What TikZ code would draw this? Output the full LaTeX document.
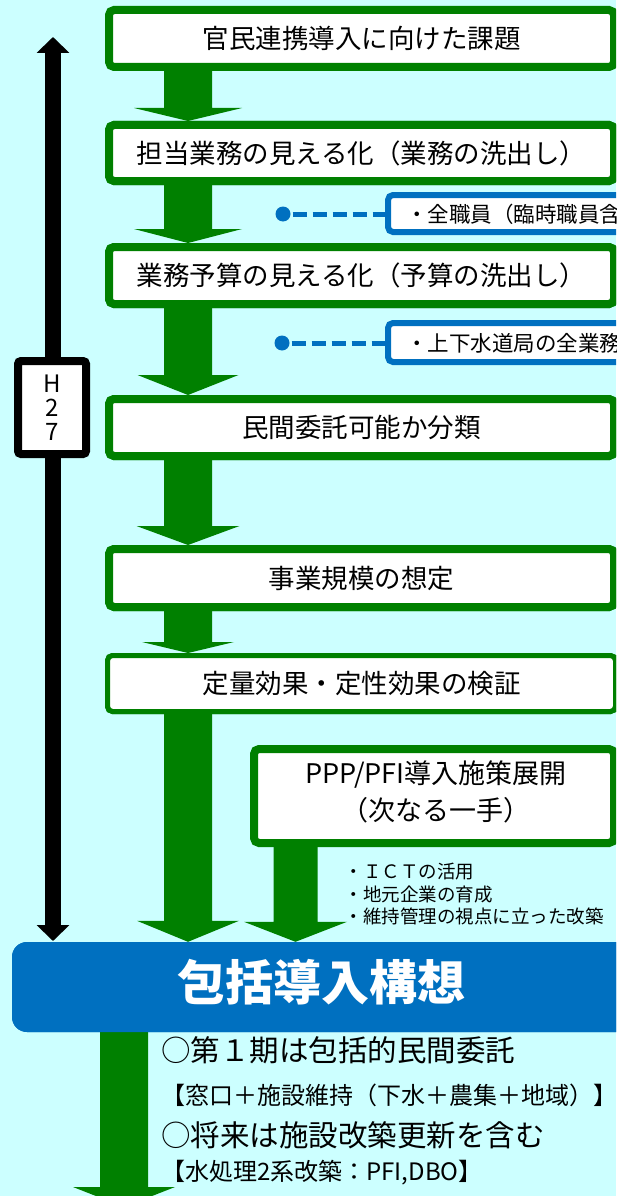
\documentclass[tikz,border=0pt]{standalone}
\usepackage{fontspec}
\setmainfont{Noto Sans CJK JP}
\usetikzlibrary{arrows.meta,calc}
\definecolor{bgc}{HTML}{CCFFFF}
\definecolor{grn}{HTML}{008000}
\definecolor{blu}{HTML}{0070C0}
\newcommand\fsz[1]{\fontsize{#1pt}{#1pt}\selectfont}
% block arrow: #1 start, #2 tip, #3 shaft half width, #4 head half width, #5 head length
\newcommand\blockarrow[5]{%
  \fill[grn] let \p1=#1, \p2=#2 in
    (\x2-#3pt,\y1) -- (\x2-#3pt,\y2+#5pt) -- (\x2-#4pt,\y2+#5pt) -- (\x2,\y2)
    -- (\x2+#4pt,\y2+#5pt) -- (\x2+#3pt,\y2+#5pt) -- (\x2+#3pt,\y1) -- cycle;}
\tikzset{
  gbox/.style={draw=grn, line width=8pt, fill=white, rounded corners=5pt,
    inner sep=0pt, minimum width=505pt, font=\fsz{26.5}},
  thinbox/.style={gbox, line width=5pt, minimum width=508pt},
  bbox/.style={draw=blu, line width=6pt, fill=white, rounded corners=5pt,
    inner sep=0pt, minimum width=329pt},
  btext/.style={anchor=west, inner sep=0pt, font=\fsz{21.5}},
  dotn/.style={circle, fill=blu, minimum size=15pt, inner sep=0pt},
  bdash/.style={draw=blu, line width=5pt, dash pattern=on 14pt off 6pt},
  timeline/.style={line width=16pt,
    {Triangle[length=16pt,width=32pt]}-{Triangle[length=16pt,width=32pt]}},
  hbox/.style={draw=black, line width=8pt, fill=white, rounded corners=3pt,
    minimum width=68pt, minimum height=93pt, inner sep=0pt, align=center,
    font=\fsz{24}},
  pptext/.style={align=center, inner sep=0pt, font=\fontsize{27pt}{37pt}\selectfont},
  ict/.style={anchor=west, inner sep=0pt, font=\fsz{18.5}},
  bigbox/.style={fill=blu, rounded corners=15pt, minimum width=620pt,
    minimum height=90pt, inner sep=0pt},
  bigtext/.style={text=white, inner sep=0pt, font=\bfseries\fsz{48}},
  tbig/.style={anchor=west, inner sep=0pt, font=\fsz{29.5}},
  tsmall/.style={anchor=west, inner sep=0pt, font=\fsz{24}},
}
\begin{document}
\begin{tikzpicture}[x=1pt,y=-1pt]
\useasboundingbox (0,0) rectangle (616,1196);
\clip (0,0) rectangle (616,1196);
\fill[bgc] (0,0) rectangle (616,1196);

% boxes
\node[gbox, minimum height=57pt] (b1) at (361.5,38.5) {官民連携導入に向けた課題};
\node[gbox, minimum height=56pt] (b2) at (361.5,153) {担当業務の見える化（業務の洗出し）};
\node[gbox, minimum height=57pt] (b3) at (361.5,275.5) {業務予算の見える化（予算の洗出し）};
\node[gbox, minimum height=57pt] (b4) at (361.5,427.5) {民間委託可能か分類};
\node[gbox, minimum height=58pt] (b5) at (361.5,578) {事業規模の想定};
\node[thinbox, minimum height=56pt] (b6) at (361.5,683.5) {定量効果・定性効果の検証};
\node[gbox, minimum width=360pt, minimum height=94pt] (ppp) at (434,796) {};
\node[pptext] (ppt) at (436,791.5) {PPP/PFI導入施策展開\\（次なる一手）};
\node[bigbox] (plan) at (322,987) {};
\node[bigtext] (plant) at (321,982) {包括導入構想};

% axes for arrows
\coordinate (ax) at (188,0);
\coordinate (ax2) at (295.5,0);
\coordinate (ax3) at (124,0);
\coordinate (fin) at (124,1207);

% green block arrows
\blockarrow{(b1.south -| ax)}{(b2.north -| ax)}{24}{54}{13}
\blockarrow{(b2.south -| ax)}{(b3.north -| ax)}{24}{54}{14}
\blockarrow{(b3.south -| ax)}{(b4.north -| ax)}{24}{50.5}{20}
\blockarrow{(b4.south -| ax)}{(b5.north -| ax)}{24}{51.5}{19}
\blockarrow{(b5.south -| ax)}{(b6.north -| ax)}{24}{46}{11}
\blockarrow{(b6.south -| ax)}{(plan.north -| ax)}{24}{51}{21}
\blockarrow{(ppp.south -| ax2)}{(plan.north -| ax2)}{22}{51.5}{20}
\blockarrow{(plan.south -| ax3)}{(fin)}{24}{51}{20}

% redraw boxes above arrow tips
\node[gbox, minimum height=56pt] at (b2) {担当業務の見える化（業務の洗出し）};
\node[gbox, minimum height=57pt] at (b3) {業務予算の見える化（予算の洗出し）};
\node[gbox, minimum height=57pt] at (b4) {民間委託可能か分類};
\node[gbox, minimum height=58pt] at (b5) {事業規模の想定};
\node[thinbox, minimum height=56pt] at (b6) {定量効果・定性効果の検証};
\node[bigbox] at (plan) {};
\node[bigtext] at (plant) {包括導入構想};

% blue notes
\node[bbox, minimum height=37pt] (n1) at (552.5,213.5) {};
\node[btext] (n1t) at (405.8,214) {・全職員（臨時職員含};
\node[bbox, minimum height=39pt] (n2) at (552.5,342.5) {};
\node[btext] (n2t) at (405.8,343) {・上下水道局の全業務};
\node[dotn] (d1) at (283,214) {};
\node[dotn] (d2) at (282,343) {};
\draw[bdash] ([xshift=2pt]d1.east) -- (d1 -| n1.west);
\draw[bdash] ([xshift=2pt]d2.east) -- (d2 -| n2.west);

% timeline
\coordinate (tltop) at (53,37);
\coordinate (tlbot) at (53,941);
\draw[timeline] (tltop) -- (tlbot);
\node[hbox] (h27) at (52,407.5) {H\\2\\7};

% ICT notes
\node[ict] (i1) at (344.5,872) {・ＩＣＴの活用};
\node[ict] (i2) at (344.5,894) {・地元企業の育成};
\node[ict] (i3) at (344.5,916) {・維持管理の視点に立った改築};

% bottom text
\node[tbig] (l1) at (161,1050) {○第１期は包括的民間委託};
\node[tsmall] (l2) at (161,1095) {【窓口＋施設維持（下水＋農集＋地域）】};
\node[tbig] (l3) at (161,1135) {○将来は施設改築更新を含む};
\node[tsmall] (l4) at (161,1173) {【水処理2系改築：PFI,DBO】};
\end{tikzpicture}
\end{document}
